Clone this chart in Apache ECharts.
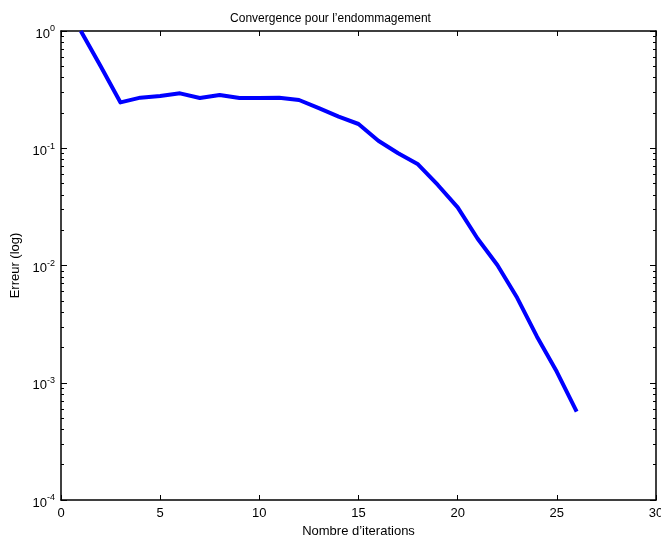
<!DOCTYPE html>
<html>
<head>
<meta charset="utf-8">
<script src="https://cdn.jsdelivr.net/npm/echarts@6/dist/echarts.min.js"></script>
<style>html,body{margin:0;padding:0;background:#fff}#c{width:661px;height:538px}</style>
</head>
<body>
<div id="c"></div>
<script>
const iterations = [1,2,3,4,5,6,7,8,9,10,11,12,13,14,15,16,17,18,19,20,21,22,23,24,25,26];
const errors = [1.0,0.50,0.246,0.270,0.279,0.294,0.268,0.285,0.268,0.268,0.270,0.258,0.220,0.186,0.161,0.116,0.0906,0.073,0.0486,0.0313,0.017,0.0101,0.0053,0.00247,0.00124,0.000566];
const xTicks = [0,5,10,15,20,25,30];
const yMajor = [1e-4,1e-3,1e-2,1e-1,1];
const titleText = "Convergence pour l\u2019endommagement";
const xName = "Nombre d\u2019iterations";
const yName = "Erreur (log)";

const yMinor = [];
for (let d = -4; d < 0; d++) {
  for (let k = 2; k <= 9; k++) yMinor.push(+(k * Math.pow(10, d)).toPrecision(3));
}

const FONT = "Liberation Sans";
const chart = echarts.init(document.getElementById('c'), null, {renderer: 'canvas'});

function supLabel(v) {
  const e = Math.round(Math.log10(v));
  return '{b|10}{s|' + e + '}';
}

const gridBox = {left: 61, right: 5, top: 31, bottom: 38, containLabel: false, outerBoundsMode: 'none'};

const baseY = {
  type: 'log', logBase: 10, min: 1e-4, max: 1, offset: 0,
  splitLine: {show: false}, minorTick: {show: false}, minorSplitLine: {show: false}
};

const option = {
  animation: false,
  backgroundColor: '#fff',
  title: {
    text: titleText, left: 'center', top: 8,
    textStyle: {fontFamily: FONT, fontSize: 12, fontWeight: 'normal', color: '#000'}
  },
  grid: [Object.assign({}, gridBox), Object.assign({}, gridBox)],
  xAxis: [
    {
      gridIndex: 0,
      type: 'value', min: 0, max: 30, interval: 5, position: 'bottom',
      name: xName, nameLocation: 'middle', nameGap: 23,
      nameTextStyle: {fontFamily: FONT, fontSize: 13, color: '#000'},
      axisLine: {show: true, onZero: false, lineStyle: {color: '#000', width: 1.5}},
      axisTick: {show: true, inside: true, length: 5, lineStyle: {color: '#000'}},
      axisLabel: {show: true, fontFamily: FONT, fontSize: 13, color: '#000', margin: 7},
      splitLine: {show: false}
    },
    {
      gridIndex: 0,
      type: 'value', min: 0, max: 30, interval: 5, position: 'top',
      axisLine: {show: true, onZero: false, lineStyle: {color: '#000', width: 1.5}},
      axisTick: {show: true, inside: true, length: 5, lineStyle: {color: '#000'}},
      axisLabel: {show: false}, splitLine: {show: false}
    },
    {
      gridIndex: 1,
      type: 'value', min: 0, max: 30, show: false
    }
  ],
  yAxis: [
    Object.assign({}, baseY, {
      gridIndex: 0,
      position: 'left',
      name: yName, nameLocation: 'middle', nameGap: 37,
      nameTextStyle: {fontFamily: FONT, fontSize: 13, color: '#000'},
      axisLine: {show: true, onZero: false, lineStyle: {color: '#000', width: 1.5}},
      axisTick: {show: true, inside: true, length: 6, lineStyle: {color: '#000'}, customValues: yMajor},
      axisLabel: {show: true, margin: 6, formatter: supLabel, customValues: yMajor,
        rich: {
          b: {fontFamily: FONT, fontSize: 13, color: '#000', padding: [6, 0, 0, 0]},
          s: {fontFamily: FONT, fontSize: 9, color: '#000', padding: [0, 0, 4, 0]}
        }}
    }),
    Object.assign({}, baseY, {
      gridIndex: 0,
      position: 'right',
      axisLine: {show: true, onZero: false, lineStyle: {color: '#000', width: 1.5}},
      axisTick: {show: true, inside: true, length: 6, lineStyle: {color: '#000'}, customValues: yMajor},
      axisLabel: {show: false}
    }),
    Object.assign({}, baseY, {
      gridIndex: 1,
      position: 'left',
      axisLine: {show: false},
      axisTick: {show: true, inside: true, length: 3, lineStyle: {color: '#000'}, customValues: yMinor},
      axisLabel: {show: false}
    }),
    Object.assign({}, baseY, {
      gridIndex: 1,
      position: 'right',
      axisLine: {show: false},
      axisTick: {show: true, inside: true, length: 3, lineStyle: {color: '#000'}, customValues: yMinor},
      axisLabel: {show: false}
    })
  ],
  series: [{
    type: 'line',
    xAxisIndex: 0, yAxisIndex: 0,
    data: iterations.map((it, i) => [it, errors[i]]),
    showSymbol: false, symbol: 'none',
    lineStyle: {color: '#0000ff', width: 4, join: 'round'},
    clip: true
  }]
};
chart.setOption(option);
</script>
</body>
</html>
